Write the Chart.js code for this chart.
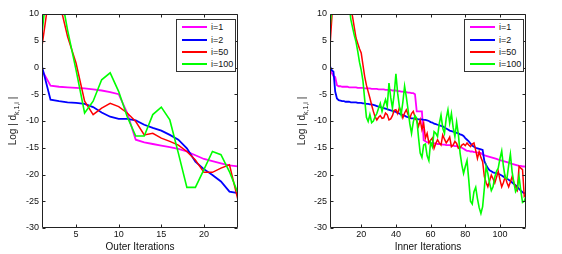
<!DOCTYPE html>
<html>
<head>
<meta charset="utf-8">
<script src="https://cdn.jsdelivr.net/npm/chart.js@4.4.1/dist/chart.umd.min.js"></script>
<style>
  body { margin: 0; background: #fff; font-family: 'Liberation Sans', Arial, sans-serif; }
  .panel { position: absolute; top: 0; width: 281px; height: 254px; }
  .ylab {
    position: absolute; width: 60px; height: 12px; line-height: 12px; text-align: center;
    font-size: 10px; font-weight: normal; color: #222; white-space: nowrap;
    transform: rotate(-90deg);
  }
  .ylab sub { font-size: 7px; line-height: 0; }
  .legend {
    position: absolute; box-sizing: border-box; border: 1px solid #333; background: #fff;
    font-size: 9px; color: #111; padding-top: 1px;
  }
  .legend .row { height: 12.4px; display: flex; align-items: center; }
  .legend .swatch { width: 25px; height: 2px; margin-left: 5px; margin-right: 4px; }
</style>
</head>
<body>
<div class="panel" style="left:0"><canvas id="outer" width="281" height="254"></canvas></div>
<div class="panel" style="left:281px"><canvas id="inner" width="281" height="254"></canvas></div>
<div class="ylab" style="left:-17px; top:115px">Log | d<sub>k,1,i</sub> |</div>
<div class="ylab" style="left:272px; top:115px">Log | d<sub>k,1,i</sub> |</div>
<div class="legend" id="legOuter" style="left:176px; top:19px; width:60px; height:53px"></div>
<div class="legend" id="legInner" style="left:464px; top:19px; width:60px; height:53px"></div>
<script>
const seriesLabels = ['i=1', 'i=2', 'i=50', 'i=100'];
const seriesColors = ['#ff00ff', '#0000ff', '#ff0000', '#00ff00'];
const seriesWidths = [1.8, 1.8, 1.5, 1.6];

const yTicks = [-30, -25, -20, -15, -10, -5, 0, 5, 10];
const outerTicks = [5, 10, 15, 20];
const innerTicks = [20, 40, 60, 80, 100];

// left panel: one value per outer iteration
const outerIters = [1, 2, 3, 4, 5, 6, 7, 8, 9, 10, 11, 12, 13, 14, 15, 16, 17, 18, 19, 20, 21, 22, 23, 24];
const outerI1 = [-0.5, -3.4, -3.6, -3.7, -3.8, -3.9, -4.1, -4.3, -4.6, -5.0, -8.5, -13.5,
  -14.0, -14.3, -14.6, -14.9, -15.2, -15.7, -16.4, -17.1, -17.5, -17.9, -18.3, -18.5];
const outerI2 = [0.2, -6.0, -6.3, -6.5, -6.6, -6.8, -7.4, -8.4, -9.2, -9.6, -9.6, -9.9,
  -10.7, -11.3, -11.8, -12.6, -13.5, -15.1, -17.6, -19.0, -20.1, -21.3, -23.2, -23.5];
const outerI50 = [4.0, 15.3, 12.5, 5.8, 0.8, -6.3, -8.8, -7.6, -6.7, -7.3, -8.5, -10.1,
  -12.6, -12.3, -13.2, -13.8, -14.5, -15.7, -17.3, -19.6, -19.6, -18.8, -18.2, -24.8];
const outerI100 = [6.4, 21.0, 15.7, 7.0, -0.5, -8.5, -6.3, -2.3, -1.0, -4.5, -9.2, -12.8,
  -12.8, -8.8, -7.4, -9.8, -16.0, -22.4, -22.4, -19.1, -15.7, -16.3, -19.5, -23.5];

// right panel: inner iterations 2..115
const innerFirst = 2;
const innerI1 = [
  -0.4, -1.0, -1.6, -1.8, -3.3, -3.5, -3.5, -3.6, -3.6, -3.6,
  -3.6, -3.7, -3.7, -3.7, -3.7, -3.7, -3.8, -3.8, -3.8, -3.8,
  -3.9, -3.9, -3.9, -3.9, -4.0, -4.0, -4.0, -4.0, -4.1, -4.1,
  -4.1, -4.1, -4.2, -4.2, -4.2, -4.2, -4.3, -4.3, -4.3, -4.4,
  -4.4, -4.5, -4.5, -4.6, -4.6, -4.7, -4.7, -4.8, -4.8, -5.0,
  -8.2, -8.2, -8.2, -8.2, -13.6, -13.8, -14.0, -14.0, -14.1, -14.1,
  -14.2, -14.2, -14.3, -14.3, -14.3, -14.4, -14.4, -14.5, -14.5, -14.5,
  -14.6, -14.6, -14.7, -14.7, -14.8, -14.9, -15.0, -15.2, -15.4, -15.6,
  -15.6, -15.7, -15.7, -15.8, -15.8, -15.9, -15.9, -16.0, -16.3, -16.4,
  -16.5, -16.6, -16.7, -16.8, -16.9, -17.0, -17.1, -17.2, -17.3, -17.4,
  -17.5, -17.6, -17.7, -17.8, -17.9, -18.0, -18.1, -18.2, -18.3, -18.4,
  -18.4, -18.5, -18.5, -18.6];
const innerI2 = [
  0.2, -0.5, -0.8, -4.5, -5.8, -6.1, -6.2, -6.3, -6.3, -6.4,
  -6.4, -6.4, -6.5, -6.5, -6.5, -6.5, -6.6, -6.6, -6.6, -6.7,
  -6.7, -6.8, -6.8, -6.9, -6.9, -7.0, -7.1, -7.2, -7.3, -7.4,
  -7.5, -7.6, -7.7, -7.8, -7.9, -8.0, -8.1, -8.2, -8.3, -8.5,
  -8.6, -8.8, -8.9, -9.0, -9.2, -9.3, -9.4, -9.5, -9.5, -9.6,
  -9.6, -9.7, -9.7, -9.7, -9.8, -9.8, -9.9, -10.0, -10.2, -10.3,
  -10.5, -10.6, -10.7, -10.8, -10.9, -11.0, -11.2, -11.4, -11.6, -11.8,
  -11.9, -12.0, -12.1, -12.2, -12.3, -12.5, -12.6, -12.8, -13.2, -13.5,
  -13.8, -14.2, -14.6, -14.8, -15.0, -15.1, -15.2, -15.3, -15.4, -17.5,
  -18.2, -18.8, -19.2, -19.4, -19.6, -19.7, -19.8, -19.9, -20.0, -20.2,
  -20.4, -20.6, -20.8, -21.0, -21.2, -21.5, -21.8, -22.0, -22.3, -22.7,
  -23.0, -23.3, -23.5, -23.6];
const innerI50 = [
  4.0, 9.0, 14.0, 16.0, 18.0, 20.0, 22.0, 22.0, 21.0, 19.0,
  17.0, 14.0, 11.0, 9.5, 7.5, 5.5, 4.5, 3.5, 2.7, 0.5,
  -1.7, -3.3, -4.5, -5.7, -7.0, -8.2, -9.2, -9.8, -9.3, -9.0,
  -9.5, -9.4, -8.5, -8.8, -9.8, -9.6, -9.0, -8.0, -7.9, -8.6,
  -7.5, -8.3, -9.4, -8.5, -7.9, -8.8, -9.5, -8.6, -8.2, -9.2,
  -10.0, -11.0, -9.8, -11.6, -10.4, -13.2, -12.3, -14.1, -13.6, -13.2,
  -15.1, -14.2, -13.5, -14.1, -14.5, -12.6, -13.4, -14.1, -13.6, -13.0,
  -14.8, -14.5, -13.8, -14.2, -15.1, -15.0, -14.5, -14.3, -14.6, -14.1,
  -14.5, -14.8, -14.3, -14.1, -15.5, -17.0, -15.7, -16.8, -17.6, -20.4,
  -21.5, -22.3, -21.2, -20.1, -20.8, -21.6, -20.5, -19.4, -21.0, -22.3,
  -21.5, -20.4, -21.5, -22.3, -21.4, -20.4, -21.5, -22.3, -22.9, -18.5,
  -18.8, -19.1, -24.1, -23.8];
const innerI100 = [
  7.4, 11.0, 16.0, 20.0, 24.0, 26.0, 27.0, 26.0, 24.0, 21.0,
  17.0, 12.0, 9.0, 7.5, 6.0, 4.8, 3.0, 1.0, -0.5, -2.5,
  -6.0, -9.3, -10.1, -8.8, -10.3, -10.0, -9.2, -8.6, -7.6, -6.7,
  -8.2, -7.0, -6.0, -7.3, -2.9, -5.6, -7.6, -5.0, -1.2, -4.8,
  -7.3, -8.8, -6.5, -3.5, -5.5, -7.9, -10.5, -12.3, -10.2, -9.0,
  -9.5, -13.0, -16.0, -16.8, -14.5, -14.3, -16.5, -17.4, -14.0, -14.8,
  -12.0, -12.3, -12.9, -10.5, -8.9, -11.3, -12.3, -9.5, -7.9, -10.4,
  -8.6, -11.2, -12.9, -10.2, -12.5, -16.0, -18.2, -19.8, -18.5, -17.4,
  -21.0, -25.0, -25.5, -23.2, -22.4, -24.5, -26.2, -27.3, -26.0, -22.5,
  -18.5, -19.8, -21.6, -23.0, -22.3, -20.5, -19.4, -18.8, -17.0, -15.6,
  -18.5, -20.6, -20.8, -18.3, -16.2, -19.5, -21.5, -23.2, -22.6, -20.4,
  -23.0, -25.2, -25.0, -24.0];
const innerIters = innerI1.map((_, k) => k + innerFirst);

const tickFont = { family: "'Liberation Sans', Arial, sans-serif", size: 9 };
const titleFont = { family: "'Liberation Sans', Arial, sans-serif", size: 10 };

// MATLAB style: full box with inward ticks on all four sides
const matlabBox = {
  id: 'matlabBox',
  afterDatasetsDraw(chart) {
    const { ctx, chartArea: a, scales: { x, y } } = chart;
    const l = Math.round(a.left) + 0.5, r = Math.round(a.right) - 0.5;
    const t = Math.round(a.top) + 0.5, b = Math.round(a.bottom) - 0.5;
    ctx.save();
    ctx.strokeStyle = '#222';
    ctx.lineWidth = 1;
    ctx.beginPath();
    ctx.rect(l, t, r - l, b - t);
    x.ticks.forEach(tk => {
      const px = Math.round(x.getPixelForValue(tk.value)) + 0.5;
      ctx.moveTo(px, b); ctx.lineTo(px, b - 3);
      ctx.moveTo(px, t); ctx.lineTo(px, t + 3);
    });
    y.ticks.forEach(tk => {
      const py = Math.round(y.getPixelForValue(tk.value)) + 0.5;
      ctx.moveTo(l, py); ctx.lineTo(l + 3, py);
      ctx.moveTo(r, py); ctx.lineTo(r - 3, py);
    });
    ctx.stroke();
    ctx.restore();
  }
};

function makeChart(id, xs, series, xMin, xMax, xTicks, xTitle, yWidth, padRight) {
  return new Chart(document.getElementById(id), {
    type: 'line',
    data: {
      datasets: series.map((vals, k) => ({
        label: seriesLabels[k],
        data: xs.map((x, j) => ({ x, y: vals[j] })),
        borderColor: seriesColors[k],
        borderWidth: seriesWidths[k],
        pointRadius: 0,
        tension: 0,
        clip: 0,
        order: series.length - k,
      })),
    },
    options: {
      responsive: false,
      animation: false,
      devicePixelRatio: 1,
      layout: { padding: { top: 14, right: padRight, left: 0, bottom: 0 } },
      plugins: { legend: { display: false }, tooltip: { enabled: false } },
      scales: {
        x: {
          type: 'linear',
          min: xMin,
          max: xMax,
          grid: { display: false, drawTicks: false },
          border: { display: false },
          afterBuildTicks: s => { s.ticks = xTicks.map(value => ({ value })); },
          afterFit: s => { s.height = 26; },
          ticks: { font: tickFont, color: '#111', padding: 1, maxRotation: 0 },
          title: { display: true, text: xTitle, font: titleFont, color: '#111', padding: { top: 1, bottom: 1 } },
        },
        y: {
          min: -30,
          max: 10,
          grid: { display: false, drawTicks: false },
          border: { display: false },
          afterBuildTicks: s => { s.ticks = yTicks.map(value => ({ value })); },
          afterFit: s => { s.width = yWidth; },
          ticks: { font: tickFont, color: '#111', padding: 3 },
        },
      },
    },
    plugins: [matlabBox],
  });
}

function fillLegend(id) {
  const box = document.getElementById(id);
  seriesLabels.forEach((label, k) => {
    const row = document.createElement('div');
    row.className = 'row';
    const sw = document.createElement('span');
    sw.className = 'swatch';
    sw.style.background = seriesColors[k];
    const txt = document.createElement('span');
    txt.textContent = label;
    row.appendChild(sw);
    row.appendChild(txt);
    box.appendChild(row);
  });
}

makeChart('outer', outerIters, [outerI1, outerI2, outerI50, outerI100], 1, 24, outerTicks, 'Outer Iterations', 42, 43);
makeChart('inner', innerIters, [innerI1, innerI2, innerI50, innerI100], 2, 115, innerTicks, 'Inner Iterations', 49, 36);
fillLegend('legOuter');
fillLegend('legInner');
</script>
</body>
</html>
